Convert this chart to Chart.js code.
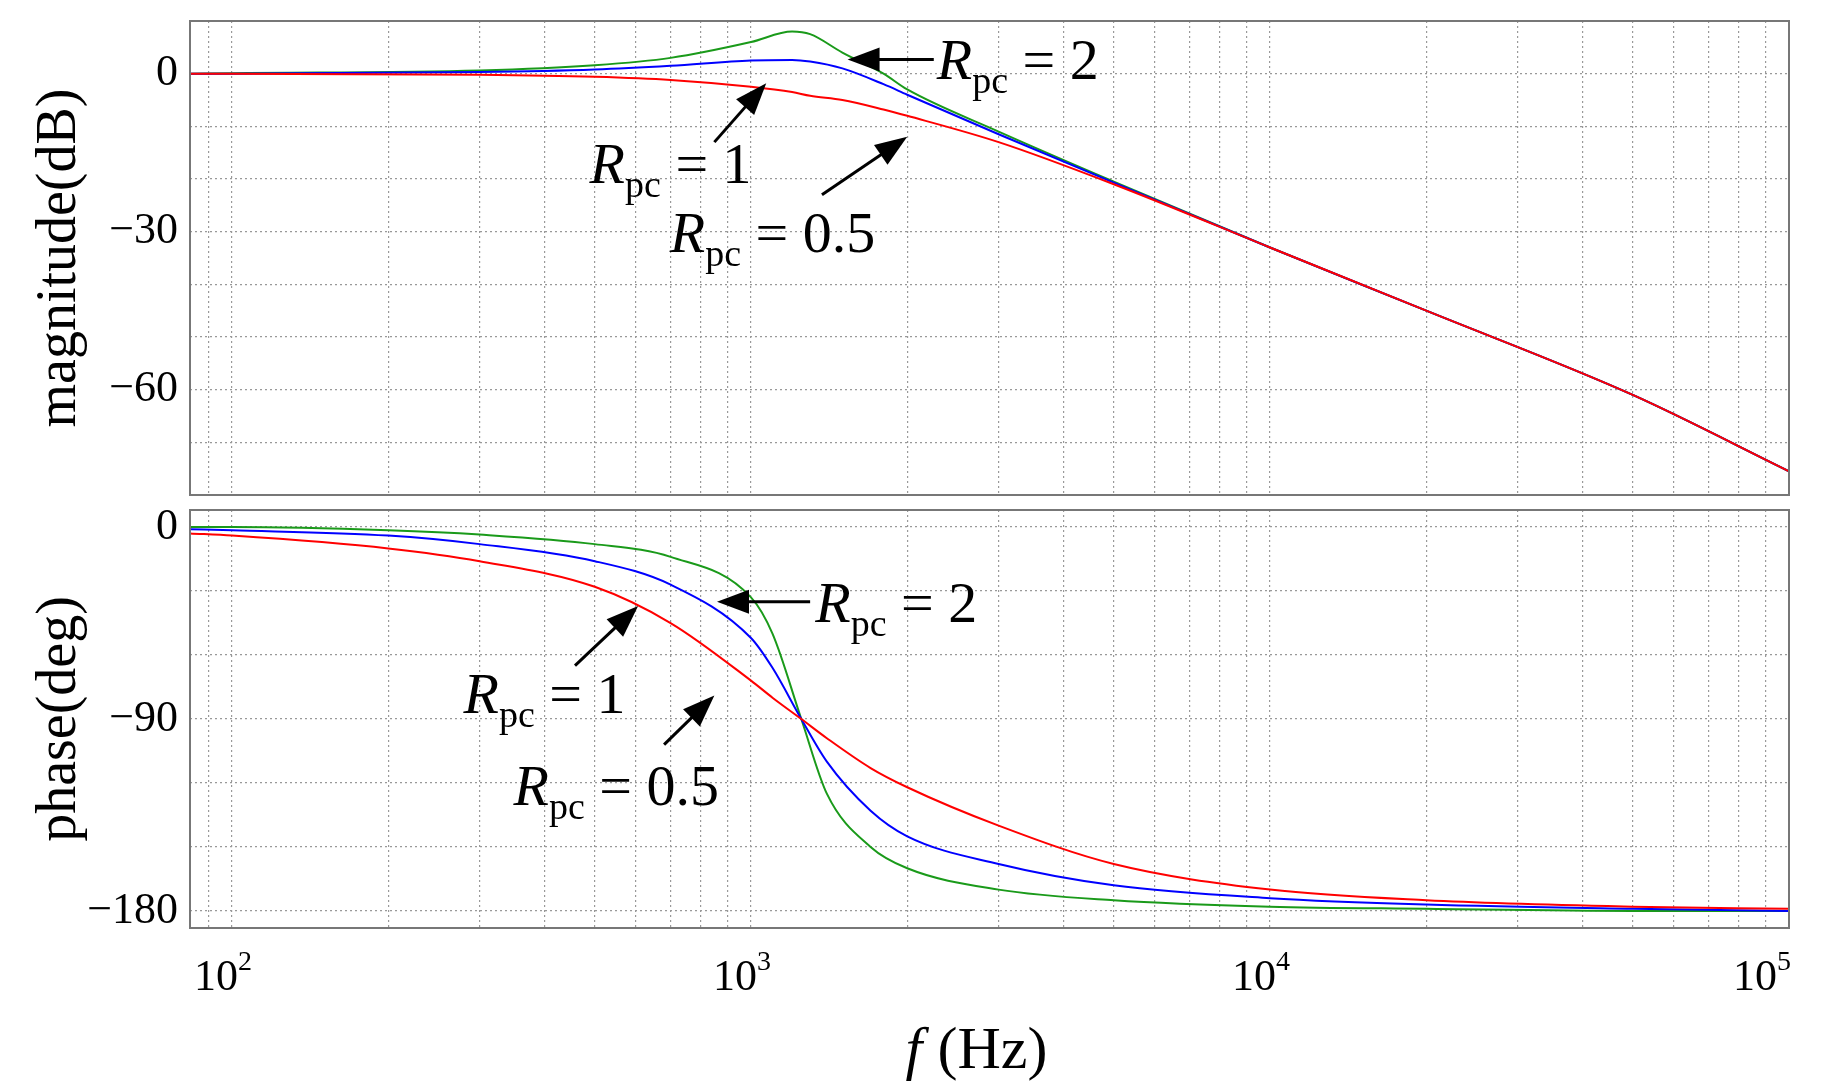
<!DOCTYPE html>
<html><head><meta charset="utf-8">
<script src="https://cdn.jsdelivr.net/npm/chart.js@4"></script>
<style>
body{margin:0;background:#fff;width:1827px;height:1089px;overflow:hidden}
</style></head><body>
<div style="position:absolute;left:0;top:0;width:1827px;height:500px"><canvas id="c1"></canvas></div>
<div style="position:absolute;left:0;top:500px;width:1827px;height:589px"><canvas id="c2"></canvas></div>
<script>
// frequencies (Hz)
const freqMag = [83, 100, 300, 500, 700, 1000, 1200, 1300, 1500, 1800, 2000, 3000, 5000, 10000, 20000, 50000, 100000];
const magRed   = [0, 0, -0.2, -0.6, -1.2, -2.5, -3.5, -4.2, -5, -6.8, -8, -13, -21, -33, -45, -61, -75.5];
const magBlue  = [0, 0, 0.3, 0.8, 1.5, 2.5, 2.6, 2.3, 1, -2, -4, -11.5, -20.7, -33, -45, -61, -75.5];
const magGreen = [0, 0.1, 0.6, 1.6, 3, 6, 8, 7.5, 4, 0, -3, -11, -20.5, -33, -45, -61, -75.5];

const freqPh = [83, 100, 200, 300, 500, 700, 1000, 1100, 1250, 1400, 1700, 2000, 3000, 5000, 10000, 20000, 50000, 100000];
const phRed   = [-3, -4, -10, -16, -28, -45, -72, -80, -90, -99, -113, -122, -140, -158, -170, -175, -178, -179];
const phBlue  = [-1, -1.5, -4, -8, -16, -27, -52, -66, -90, -110, -133, -145, -158, -168, -174, -177, -179, -180];
const phGreen = [0, 0, -1.5, -3.5, -8, -14, -33, -50, -90, -125, -150, -160, -170, -175, -178, -179, -180, -180];

const decadeTicks = [100, 1000, 10000, 100000];
const magTicks = [0, -30, -60];
const phTicks = [0, -90, -180];

// annotations: label value, arrow tip [f, y], arrow tail [f, y], text anchor [f, y], align
const magNotes = [
  {v:'2',   tip:[1535, 2.7], tail:[2250, 2.7], txt:[2280, 2.7], align:'left'},
  {v:'1',   tip:[1070, -1.8], tail:[850, -13], txt:[700, -17], align:'center'},
  {v:'0.5', tip:[2000, -12], tail:[1370, -23], txt:[1100, -30], align:'center'}
];
const phNotes = [
  {v:'2',   tip:[860, -35], tail:[1300, -35], txt:[1330, -35], align:'left'},
  {v:'1',   tip:[606, -37], tail:[458, -65], txt:[400, -78], align:'center'},
  {v:'0.5', tip:[850, -79], tail:[680, -102], txt:[550, -121], align:'center'}
];

const SERIF = '"Liberation Serif", "DejaVu Serif", serif';
const minorTicks = [];
for (let d = 10; d <= 100000; d *= 10) for (let k = 1; k <= 9; k++) { const v = d * k; if (v >= 83 && v <= 100000) minorTicks.push(v); }

function pts(xs, ys) { return xs.map((x, i) => ({x, y: ys[i]})); }
function ds(label, xs, ys, color) {
  return {label, data: pts(xs, ys), borderColor: color, borderWidth: 2, pointRadius: 0, cubicInterpolationMode: 'monotone', fill: false};
}

function drawRpc(ctx, x, y, v, align) {
  ctx.save();
  ctx.fillStyle = '#000';
  ctx.textAlign = 'left';
  ctx.textBaseline = 'alphabetic';
  const big = '58px ' + SERIF, sub = '38px ' + SERIF;
  ctx.font = 'italic ' + big; const wR = ctx.measureText('R').width;
  ctx.font = sub; const wS = ctx.measureText('pc').width;
  ctx.font = big; const rest = ' = ' + v; const wT = ctx.measureText(rest).width;
  const total = wR + wS + wT;
  let x0 = align === 'center' ? x - total / 2 : x;
  const by = y + 20;
  ctx.font = 'italic ' + big; ctx.fillText('R', x0, by);
  ctx.font = sub; ctx.fillText('pc', x0 + wR, by + 14);
  ctx.font = big; ctx.fillText(rest, x0 + wR + wS, by);
  ctx.restore();
}

function arrow(ctx, x1, y1, x2, y2) {
  const a = Math.atan2(y2 - y1, x2 - x1), L = 32, W = 12;
  ctx.save();
  ctx.strokeStyle = '#000'; ctx.fillStyle = '#000'; ctx.lineWidth = 3;
  ctx.beginPath(); ctx.moveTo(x1, y1); ctx.lineTo(x2 - L * 0.8 * Math.cos(a), y2 - L * 0.8 * Math.sin(a)); ctx.stroke();
  ctx.beginPath(); ctx.moveTo(x2, y2);
  ctx.lineTo(x2 - L * Math.cos(a) + W * Math.sin(a), y2 - L * Math.sin(a) - W * Math.cos(a));
  ctx.lineTo(x2 - L * Math.cos(a) - W * Math.sin(a), y2 - L * Math.sin(a) + W * Math.cos(a));
  ctx.closePath(); ctx.fill();
  ctx.restore();
}

function decor(notes, yticks, title, showX) {
  return {
    id: 'decor',
    afterDraw(chart) {
      const {ctx, chartArea: a, scales} = chart;
      const xs = scales.x, ys = scales.y;
      ctx.save();
      ctx.strokeStyle = '#777'; ctx.lineWidth = 2;
      ctx.strokeRect(a.left, a.top, a.right - a.left, a.bottom - a.top);
      ctx.fillStyle = '#000';
      ctx.font = '44px ' + SERIF; ctx.textAlign = 'right'; ctx.textBaseline = 'middle';
      yticks.forEach(t => ctx.fillText(t === 0 ? '0' : '\u2212' + Math.abs(t), a.left - 12, ys.getPixelForValue(t)));
      ctx.save();
      ctx.translate(60, (a.top + a.bottom) / 2); ctx.rotate(-Math.PI / 2);
      ctx.font = '56px ' + SERIF; ctx.textAlign = 'center'; ctx.fillText(title, 0, 0);
      ctx.restore();
      if (showX) {
        decadeTicks.forEach(t => {
          const px = xs.getPixelForValue(t), e = String(Math.round(Math.log10(t)));
          const bx = Math.min(px + 6, a.right - 12);
          ctx.font = '44px ' + SERIF; ctx.textAlign = 'right'; ctx.textBaseline = 'alphabetic';
          ctx.fillText('10', bx, a.bottom + 62);
          ctx.font = '28px ' + SERIF; ctx.textAlign = 'left';
          ctx.fillText(e, bx, a.bottom + 42);
        });
        const cx = (a.left + a.right) / 2 - 60;
        ctx.font = 'italic 60px ' + SERIF; ctx.textAlign = 'left'; ctx.fillText('f', cx - 24, a.bottom + 140);
        ctx.font = '60px ' + SERIF; ctx.fillText('(Hz)', cx + 8, a.bottom + 140);
      }
      notes.forEach(n => {
        arrow(ctx, xs.getPixelForValue(n.tail[0]), ys.getPixelForValue(n.tail[1]), xs.getPixelForValue(n.tip[0]), ys.getPixelForValue(n.tip[1]));
        drawRpc(ctx, xs.getPixelForValue(n.txt[0]), ys.getPixelForValue(n.txt[1]), n.v, n.align);
      });
      ctx.restore();
    }
  };
}

function makeChart(id, datasets, ymin, ymax, ystep, notes, yticks, title, showX, pad) {
  return new Chart(document.getElementById(id), {
    type: 'line',
    data: {datasets},
    options: {
      responsive: true, maintainAspectRatio: false, animation: false,
      layout: {padding: pad},
      plugins: {legend: {display: false}, tooltip: {enabled: false}},
      scales: {
        x: {type: 'logarithmic', min: 83, max: 100000,
          afterBuildTicks: s => { s.ticks = minorTicks.map(v => ({value: v})); },
          afterFit: s => { s.height = showX ? 161 : 0; },
          ticks: {display: false},
          grid: {color: '#999', lineWidth: 1.2, drawTicks: false},
          border: {display: false, dash: [2, 3]}},
        y: {min: ymin, max: ymax,
          afterBuildTicks: s => { const t = []; for (let v = Math.ceil(ymin / ystep) * ystep; v <= ymax; v += ystep) t.push({value: v}); s.ticks = t; },
          afterFit: s => { s.width = 190; },
          ticks: {display: false},
          grid: {color: '#999', lineWidth: 1.2, drawTicks: false},
          border: {display: false, dash: [2, 3]}}
      }
    },
    plugins: [decor(notes, yticks, title, showX)]
  });
}

// first dataset is drawn on top
makeChart('c1', [ds('Rpc=0.5', freqMag, magRed, '#ff0000'), ds('Rpc=1', freqMag, magBlue, '#0000ff'), ds('Rpc=2', freqMag, magGreen, '#1a9a1a')],
  -80, 10, 10, magNotes, magTicks, 'magnitude(dB)', false, {top: 21, right: 38, bottom: 5, left: 0});
makeChart('c2', [ds('Rpc=0.5', freqPh, phRed, '#ff0000'), ds('Rpc=1', freqPh, phBlue, '#0000ff'), ds('Rpc=2', freqPh, phGreen, '#1a9a1a')],
  -188, 8, 30, phNotes, phTicks, 'phase(deg)', true, {top: 10, right: 38, bottom: 0, left: 0});
</script>
</body></html>
